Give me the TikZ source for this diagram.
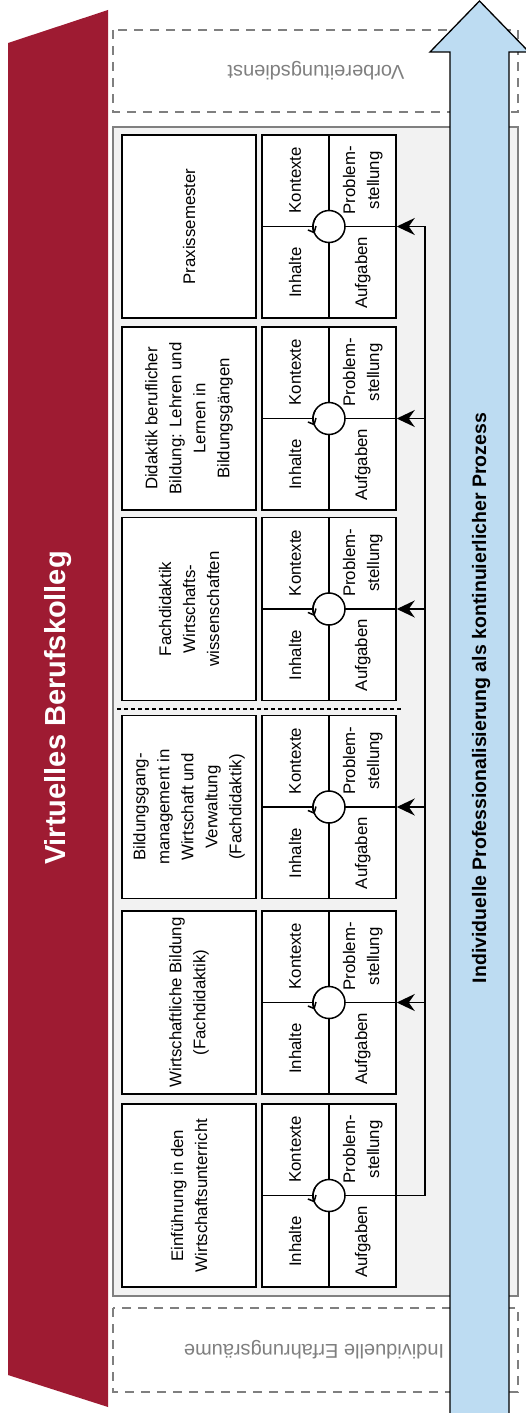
\documentclass[tikz,border=0pt]{standalone}
\usepackage{fontspec}
\setmainfont{Liberation Sans}
\usetikzlibrary{calc, arrows.meta}

\definecolor{vbkred}{HTML}{9E1B32}
\definecolor{procblue}{HTML}{BDDCF2}
\definecolor{panelgray}{HTML}{F2F2F2}
\definecolor{dashgray}{HTML}{7F7F7F}

\begin{document}
\begin{tikzpicture}[
        x=1pt, y=-1pt,
        modbox/.style={draw, line width=1.5pt, fill=white, minimum width=134pt, minimum height=183pt, inner sep=0pt},
        rot/.style={rotate=90, align=center, inner sep=0pt, font=\fontsize{16.8}{24}\selectfont},
        cyclenode/.style={circle, draw, line width=1.5pt, fill=white, minimum size=32pt, inner sep=0pt},
        cyclearrow/.style={line width=1.5pt, -{Straight Barb[length=5pt, width=9pt]}},
        feed/.style={line width=1.8pt, -{Stealth[length=18pt, width=17pt, inset=6pt]}},
        dashframe/.style={draw=dashgray, line width=1.2pt, dash pattern=on 9pt off 7pt},
        graytext/.style={rotate=180, text=dashgray, font=\fontsize{20}{24}\selectfont}
    ]
    \useasboundingbox (0,0) rectangle (525,1413);

    % Virtuelles Berufskolleg (red band)
    \fill[vbkred] (8,43) -- (108,10) -- (108,1407) -- (8,1375) -- cycle;
    \node[rotate=90, text=white, font=\fontsize{29}{34}\selectfont\bfseries] (vbk) at (58,708) {Virtuelles Berufskolleg};

    % dashed frames and the grey panel
    \draw[dashframe] (113,30) rectangle (518,112);
    \node[graytext] (vd) at (316,71) {Vorbereitungsdienst};
    \draw[dashframe] (113,1308) rectangle (518,1392);
    \node[graytext] (ie) at (314,1350) {Individuelle Erfahrungsräume};
    \filldraw[fill=panelgray, draw=gray, line width=1.5pt] (113,127) rectangle (518,1296);

    % process arrow
    \filldraw[fill=procblue, draw=black, line width=1.3pt]
        (479.5,1) -- (529,52) -- (509,52) -- (509,1420) -- (450,1420) -- (450,52) -- (430,52) -- cycle;
    \node[rotate=90, font=\fontsize{19.5}{24}\selectfont\bfseries] (proc) at (481,698)
        {Individuelle Professionalisierung als kontinuierlicher Prozess};

    % module titles
    \node[modbox] (t1) at (189,226.5) {};
    \node[modbox] (t2) at (189,418.5) {};
    \node[modbox] (t3) at (189,609) {};
    \node[modbox] (t4) at (189,807) {};
    \node[modbox] (t5) at (189,1002.5) {};
    \node[modbox] (t6) at (189,1195.5) {};
    \node[rot] (t1txt) at (t1) {Praxissemester};
    \node[rot] (t2txt) at (t2) {Didaktik beruflicher\\Bildung: Lehren und\\Lernen in\\Bildungsgängen};
    \node[rot] (t3txt) at (t3) {Fachdidaktik\\Wirtschafts-\\wissenschaften};
    \node[rot] (t4txt) at (t4) {Bildungsgang-\\management in\\Wirtschaft und\\Verwaltung\\(Fachdidaktik)};
    \node[rot] (t5txt) at (t5) {Wirtschaftliche Bildung\\(Fachdidaktik)};
    \node[rot] (t6txt) at (t6) {Einführung in den\\Wirtschaftsunterricht};

    \draw[line width=1.5pt, dash pattern=on 4pt off 3pt] (117,709) -- (403,709);

    % quadrants with the cycle in the middle
    \foreach \n/\y in {1/226.5, 2/418.5, 3/609, 4/807, 5/1002.5, 6/1195.5} {
        \node[modbox] (q\n) at (329,\y) {};
        \draw[line width=1.5pt] (q\n.north) -- (q\n.south) (q\n.west) -- (q\n.east);
        \node[cyclenode] (c\n) at (q\n) {};
        \draw[cyclearrow] (c\n.center) ++(210:16) arc[start angle=210, end angle=154, radius=16];
        \node[rot] (k\n) at ($(q\n)!.5!(q\n.north west)$) {Kontexte};
        \node[rot] (p\n) at ($(q\n)!.5!(q\n.north east)$) {Problem-\\stellung};
        \node[rot] (i\n) at ($(q\n)!.5!(q\n.south west)$) {Inhalte};
        \node[rot] (a\n) at ($(q\n)!.5!(q\n.south east)$) {Aufgaben};
    }

    % feedback line
    \coordinate (bus) at (425,0);
    \draw[feed] (q6.east) -| (bus |- q1.east) -- (q1.east);
    \foreach \n in {2,...,5}
        \draw[feed] (bus |- q\n.east) -- (q\n.east);
\end{tikzpicture}
\end{document}
